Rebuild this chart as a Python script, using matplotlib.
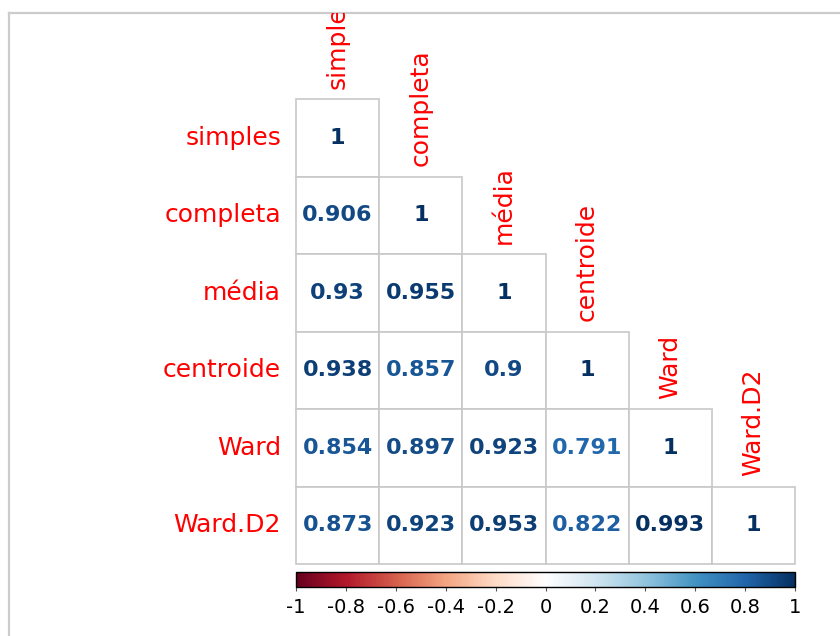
import matplotlib
matplotlib.use("Agg")
import matplotlib.pyplot as plt
from matplotlib.patches import Rectangle
from matplotlib.colors import LinearSegmentedColormap, Normalize
from matplotlib.colorbar import ColorbarBase

# ---------------------------------------------------------------
# data: lower triangle of the correlation matrix (cophenetic corr)
# ---------------------------------------------------------------
methods = ["simples", "completa", "média", "centroide", "Ward", "Ward.D2"]
r_simples = [1]
r_completa = [0.906, 1]
r_media = [0.93, 0.955, 1]
r_centroide = [0.938, 0.857, 0.9, 1]
r_ward = [0.854, 0.897, 0.923, 0.791, 1]
r_wardd2 = [0.873, 0.923, 0.953, 0.822, 0.993, 1]
rows = [r_simples, r_completa, r_media, r_centroide, r_ward, r_wardd2]
cbar_ticks = [-1, -0.8, -0.6, -0.4, -0.2, 0, 0.2, 0.4, 0.6, 0.8, 1]

# corrplot's RdBu palette
cmap = LinearSegmentedColormap.from_list(
    "corr_rdbu", ["#67001F", "#B2182B", "#D6604D", "#F4A582", "#FDDBC7", "#FFFFFF",
                  "#D1E5F0", "#92C5DE", "#4393C3", "#2166AC", "#053061"])
norm = Normalize(-1, 1)

# ---------------------------------------------------------------
# layout (pixels of an 840x636 canvas)
# ---------------------------------------------------------------
W, H = 840, 636
frame_left, frame_top = 8.8, 13
grid_left, grid_top = 296, 99
cell_w, cell_h = 83.17, 77.5

fig = plt.figure(figsize=(W / 100, H / 100), dpi=100)
ax = fig.add_axes([frame_left / W, 0, 1 - frame_left / W, 1 - frame_top / H])
ax.set_xlim((frame_left - grid_left) / cell_w, (W - grid_left) / cell_w)
ax.set_ylim((H - grid_top) / cell_h, (frame_top - grid_top) / cell_h)
ax.set_xticks([])
ax.set_yticks([])
for side in ["right", "bottom"]:
    ax.spines[side].set_visible(False)
for side in ["left", "top"]:
    ax.spines[side].set_color("#cccccc")
    ax.spines[side].set_linewidth(1.6)

n = len(methods)
for i, row in enumerate(rows):
    for j, v in enumerate(row):
        ax.add_patch(Rectangle((j, i), 1, 1, facecolor="white",
                               edgecolor="#c8c8c8", lw=1.2))
        ax.text(j + 0.5, i + 0.5, f"{v:g}", ha="center", va="center",
                fontsize=16, fontweight="bold", color=cmap(norm(v)))

for k, name in enumerate(methods):
    # row labels on the left
    ax.text(-0.18, k + 0.5, name, ha="right", va="center",
            fontsize=18, color="#FF0000")
    # column labels above the staircase (top one is cut by the frame, as in the original)
    ax.text(k + 0.5, k - 0.13, name, ha="center", va="bottom", rotation=90,
            fontsize=18, color="#FF0000", clip_on=True)

# ---------------------------------------------------------------
# colour legend
# ---------------------------------------------------------------
cax = fig.add_axes([grid_left / W, (H - 587) / H, (n * cell_w) / W, 15 / H])
cb = ColorbarBase(cax, cmap=cmap, norm=norm, orientation="horizontal",
                  ticks=cbar_ticks)
cb.outline.set_linewidth(1.0)
cb.ax.set_xticklabels([f"{t:g}" for t in cbar_ticks])
cb.ax.tick_params(labelsize=14, length=3, width=0.8, pad=5, color="#555555")

fig.savefig("out.png", dpi=100)
